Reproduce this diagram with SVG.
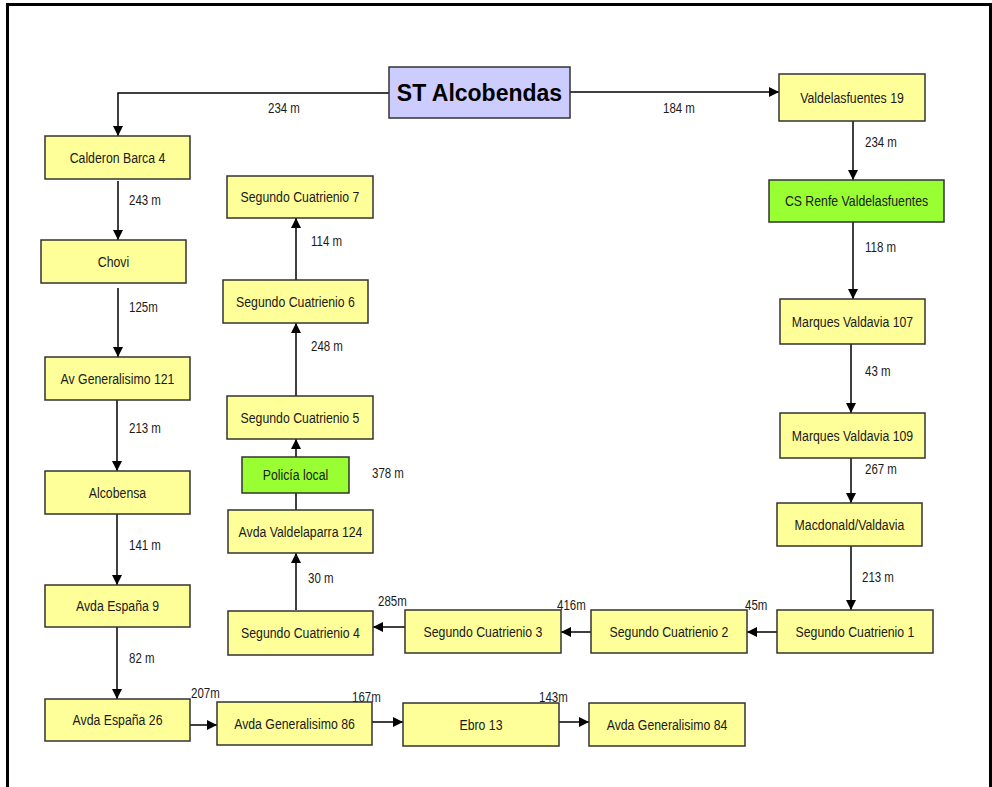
<svg xmlns="http://www.w3.org/2000/svg" width="992" height="787" viewBox="0 0 992 787">
  <style>
    .box rect { stroke: #333333; stroke-width: 1.5; }
    .yel rect { fill: #FFFF99; }
    .grn rect { fill: #99FF33; }
    .st rect { fill: #CCCCFF; }
    text { font-family: "Liberation Sans", Arial, sans-serif; fill: #1a1a1a; }
    .nt { font-size: 15px; text-anchor: middle; }
    .lbl text { font-size: 14px; }
    .big { font-size: 23px; font-weight: bold; text-anchor: middle; fill: #000; }
    .conn path { fill: none; stroke: #000; stroke-width: 1.5; marker-end: url(#arr); }
    .frame { fill: none; stroke: #000; stroke-width: 3; }
  </style>
  <defs>
    <marker id="arr" viewBox="0 0 10 10" refX="10" refY="5" markerWidth="10" markerHeight="10" markerUnits="userSpaceOnUse" orient="auto">
      <path d="M0,0 L10,5 L0,10 Z" fill="#000"/>
    </marker>
  </defs>
  <rect width="992" height="787" fill="#fff"/>
  <path class="frame" d="M7.5,787 V4.5 H990.5 V787"/>

  <!-- connectors -->
  <g id="connectors" class="conn">
    <path d="M389,93 H118 V136"/>
    <path d="M570,92 H779"/>
    <path d="M853,121 V180"/>
    <path d="M853,222 V299"/>
    <path d="M851,344 V413"/>
    <path d="M851,458 V503"/>
    <path d="M851,546 V610"/>
    <path d="M777,632 H747"/>
    <path d="M591,632 H561"/>
    <path d="M405,627 H373"/>
    <path d="M296,610 V553"/>
    <path d="M296,510 V439"/>
    <path d="M296,396 V323"/>
    <path d="M296,280 V218"/>
    <path d="M118,181 V240"/>
    <path d="M118,288 V357"/>
    <path d="M117,400 V471"/>
    <path d="M117,514 V585"/>
    <path d="M117,627 V699"/>
    <path d="M189,725 H217"/>
    <path d="M369,722 H403"/>
    <path d="M555,722 H589"/>
  </g>

  <!-- distance labels (condensed) -->
  <g id="labels" class="lbl">
    <text transform="translate(268,113) scale(0.82,1)">234 m</text>
    <text transform="translate(663,113) scale(0.82,1)">184 m</text>
    <text transform="translate(865,147) scale(0.82,1)">234 m</text>
    <text transform="translate(865,252) scale(0.82,1)">118 m</text>
    <text transform="translate(865,376) scale(0.82,1)">43 m</text>
    <text transform="translate(865,474) scale(0.82,1)">267 m</text>
    <text transform="translate(862,582) scale(0.82,1)">213 m</text>
    <text transform="translate(745,610) scale(0.82,1)">45m</text>
    <text transform="translate(557,610) scale(0.82,1)">416m</text>
    <text transform="translate(378,606) scale(0.82,1)">285m</text>
    <text transform="translate(308,583) scale(0.82,1)">30 m</text>
    <text transform="translate(372,478) scale(0.82,1)">378 m</text>
    <text transform="translate(311,351) scale(0.82,1)">248 m</text>
    <text transform="translate(311,246) scale(0.82,1)">114 m</text>
    <text transform="translate(129,205) scale(0.82,1)">243 m</text>
    <text transform="translate(129,312) scale(0.82,1)">125m</text>
    <text transform="translate(129,433) scale(0.82,1)">213 m</text>
    <text transform="translate(129,550) scale(0.82,1)">141 m</text>
    <text transform="translate(129,663) scale(0.82,1)">82 m</text>
    <text transform="translate(191,698) scale(0.82,1)">207m</text>
    <text transform="translate(352,702) scale(0.82,1)">167m</text>
    <text transform="translate(539,702) scale(0.82,1)">143m</text>
  </g>

  <!-- nodes -->
  <g id="n-st" class="box st"><rect x="389" y="67" width="181" height="51"/><text class="big" x="479.5" y="101">ST Alcobendas</text></g>
  <g id="n-valdelasfuentes19" class="box yel"><rect x="779" y="74" width="146" height="47"/><text class="nt" transform="translate(852,103) scale(0.82,1)">Valdelasfuentes 19</text></g>
  <g id="n-csrenfe" class="box grn"><rect x="769" y="180" width="175" height="42"/><text class="nt" transform="translate(856.5,206) scale(0.82,1)">CS Renfe Valdelasfuentes</text></g>
  <g id="n-mv107" class="box yel"><rect x="780" y="299" width="145" height="45"/><text class="nt" transform="translate(852.5,327) scale(0.82,1)">Marques Valdavia 107</text></g>
  <g id="n-mv109" class="box yel"><rect x="780" y="413" width="145" height="45"/><text class="nt" transform="translate(852.5,441) scale(0.82,1)">Marques Valdavia 109</text></g>
  <g id="n-macdonald" class="box yel"><rect x="777" y="503" width="145" height="43"/><text class="nt" transform="translate(849.5,530) scale(0.82,1)">Macdonald/Valdavia</text></g>
  <g id="n-sc1" class="box yel"><rect x="777" y="610" width="156" height="43"/><text class="nt" transform="translate(855,637) scale(0.82,1)">Segundo Cuatrienio 1</text></g>
  <g id="n-sc2" class="box yel"><rect x="591" y="610" width="156" height="43"/><text class="nt" transform="translate(669,637) scale(0.82,1)">Segundo Cuatrienio 2</text></g>
  <g id="n-sc3" class="box yel"><rect x="405" y="610" width="156" height="43"/><text class="nt" transform="translate(483,637) scale(0.82,1)">Segundo Cuatrienio 3</text></g>
  <g id="n-sc4" class="box yel"><rect x="228" y="611" width="145" height="44"/><text class="nt" transform="translate(300.5,638) scale(0.82,1)">Segundo Cuatrienio 4</text></g>
  <g id="n-valdelaparra" class="box yel"><rect x="228" y="510" width="145" height="43"/><text class="nt" transform="translate(300.5,537) scale(0.82,1)">Avda Valdelaparra 124</text></g>
  <g id="n-policia" class="box grn"><rect x="242" y="457" width="107" height="36"/><text class="nt" transform="translate(295.5,480) scale(0.82,1)">Policía local</text></g>
  <g id="n-sc5" class="box yel"><rect x="227" y="396" width="146" height="43"/><text class="nt" transform="translate(300,423) scale(0.82,1)">Segundo Cuatrienio 5</text></g>
  <g id="n-sc6" class="box yel"><rect x="223" y="280" width="145" height="43"/><text class="nt" transform="translate(295.5,307) scale(0.82,1)">Segundo Cuatrienio 6</text></g>
  <g id="n-sc7" class="box yel"><rect x="227" y="176" width="146" height="42"/><text class="nt" transform="translate(300,202) scale(0.82,1)">Segundo Cuatrienio 7</text></g>
  <g id="n-calderon" class="box yel"><rect x="45" y="136" width="145" height="43"/><text class="nt" transform="translate(117.5,163) scale(0.82,1)">Calderon Barca 4</text></g>
  <g id="n-chovi" class="box yel"><rect x="41" y="240" width="145" height="43"/><text class="nt" transform="translate(113.5,267) scale(0.82,1)">Chovi</text></g>
  <g id="n-avgen121" class="box yel"><rect x="45" y="357" width="145" height="43"/><text class="nt" transform="translate(117.5,384) scale(0.82,1)">Av Generalisimo 121</text></g>
  <g id="n-alcobensa" class="box yel"><rect x="45" y="471" width="145" height="43"/><text class="nt" transform="translate(117.5,498) scale(0.82,1)">Alcobensa</text></g>
  <g id="n-espana9" class="box yel"><rect x="45" y="585" width="145" height="42"/><text class="nt" transform="translate(117.5,611) scale(0.82,1)">Avda España 9</text></g>
  <g id="n-espana26" class="box yel"><rect x="45" y="699" width="145" height="42"/><text class="nt" transform="translate(117.5,725) scale(0.82,1)">Avda España 26</text></g>
  <g id="n-avgen86" class="box yel"><rect x="217" y="702" width="155" height="43"/><text class="nt" transform="translate(294.5,729) scale(0.82,1)">Avda Generalisimo 86</text></g>
  <g id="n-ebro13" class="box yel"><rect x="403" y="703" width="156" height="43"/><text class="nt" transform="translate(481,730) scale(0.82,1)">Ebro 13</text></g>
  <g id="n-avgen84" class="box yel"><rect x="589" y="703" width="156" height="43"/><text class="nt" transform="translate(667,730) scale(0.82,1)">Avda Generalisimo 84</text></g>
</svg>
